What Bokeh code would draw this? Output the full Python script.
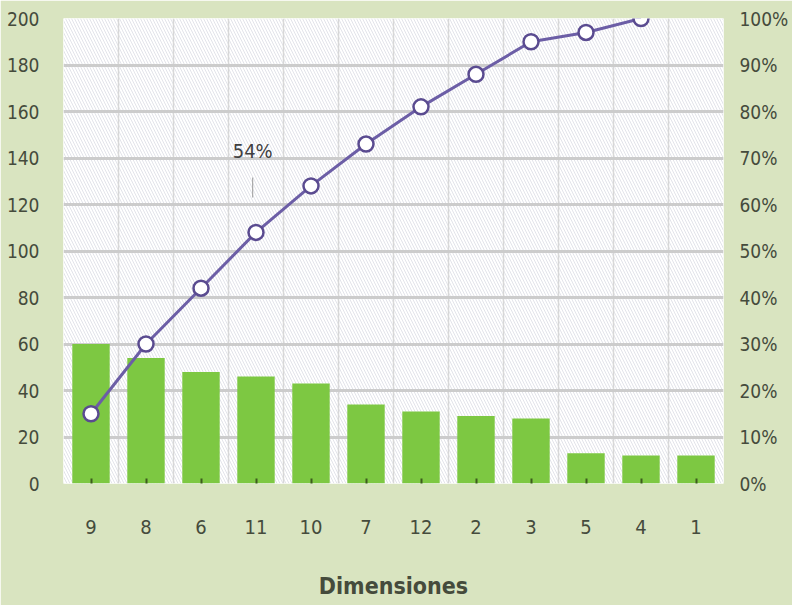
from bokeh.plotting import figure
from bokeh.models import (Range1d, LinearAxis, FixedTicker, SingleIntervalTicker,
                          PrintfTickFormatter, BoxAnnotation, Label)
from bokeh.embed import file_html
from bokeh.resources import INLINE

# Pareto data: defect counts per dimension, sorted descending
categories = ["9", "8", "6", "11", "10", "7", "12", "2", "3", "5", "4", "1"]
counts = [60, 54, 48, 46, 43, 34, 31, 29, 28, 13, 12, 12]
# cumulative share (%) plotted on the secondary axis
cumulative_pct = [15, 30, 42, 54, 64, 73, 81, 88, 95, 97, 100]
left_ticks = list(range(0, 201, 20))
right_ticks = list(range(0, 101, 10))
x_title = "Dimensiones"
callout_index = 3  # point annotated with its value

FONT = "'Liberation Sans Narrow', 'DejaVu Sans Condensed', 'Open Sans', sans-serif"
TEXT = "#454b3c"
OUTER = "#d9e4c0"
BAR = "#7dc842"
LINE = "#6c5ea6"

xs = [i + 1 for i in range(len(categories))]
line_xs = xs[:len(cumulative_pct)]

p = figure(width=792, height=605, output_backend="svg", toolbar_location=None,
           x_range=Range1d(0.5, len(categories) + 0.5), y_range=Range1d(0, 200),
           min_border_left=63, min_border_right=69, min_border_top=18, min_border_bottom=122)
p.background_fill_color = "white"
p.border_fill_color = OUTER
p.outline_line_color = None

# fine diagonal hatching behind everything in the plot area
p.add_layout(BoxAnnotation(fill_color="white", fill_alpha=1.0, line_color=None,
                           hatch_pattern="\\", hatch_color="#cfd0dc", hatch_alpha=0.6,
                           hatch_scale=6, hatch_weight=1, level="image"))

# grid: horizontal at every 20, vertical between categories
p.ygrid.ticker = SingleIntervalTicker(interval=20)
p.ygrid.grid_line_color = "#cccccc"
p.ygrid.grid_line_width = 3
p.xgrid.ticker = FixedTicker(ticks=[x + 0.5 for x in xs[:-1]])
p.xgrid.grid_line_color = "#d8d8d8"
p.xgrid.grid_line_width = 1.5

# bars
p.vbar(x=xs, top=counts, width=0.68, fill_color=BAR, line_color=None)

# cumulative line on secondary range
p.extra_y_ranges = {"pct": Range1d(0, 100)}
p.line(line_xs, cumulative_pct, y_range_name="pct", line_color=LINE, line_width=3)
p.scatter(line_xs, cumulative_pct, y_range_name="pct", size=15, marker="circle",
          fill_color="white", line_color="#5a4b90", line_width=2.5)

# callout for one of the cumulative values
cx = line_xs[callout_index]
cy = cumulative_pct[callout_index]
p.segment(x0=[cx - 0.06], x1=[cx - 0.06], y0=[cy + 7.5], y1=[cy + 11.8],
          y_range_name="pct", line_color="#9a9a9a", line_width=1)
p.add_layout(Label(x=cx - 0.06, y=cy, y_range_name="pct", y_offset=81,
                   text=f"{cy}%", text_font=FONT, text_font_size="20px",
                   text_color="#3f3f3f", text_align="center", text_baseline="middle"))

# axes
p.xaxis.ticker = FixedTicker(ticks=xs)
p.xaxis.major_label_overrides = {x: c for x, c in zip(xs, categories)}
p.xaxis.axis_label = x_title
p.xaxis.axis_label_text_font = FONT
p.xaxis.axis_label_text_font_size = "23px"
p.xaxis.axis_label_text_font_style = "bold"
p.xaxis.axis_label_text_color = TEXT
p.xaxis.axis_label_standoff = 36
p.xaxis.major_label_standoff = 36
p.xaxis.major_tick_in = 5
p.xaxis.major_tick_out = 0
p.xaxis.major_tick_line_color = "#3d5a1e"
p.xaxis.major_tick_line_width = 2

p.yaxis.ticker = FixedTicker(ticks=left_ticks)
p.yaxis.major_label_standoff = 18

right = LinearAxis(y_range_name="pct", ticker=FixedTicker(ticks=right_ticks),
                   formatter=PrintfTickFormatter(format="%d%%"))
right.major_label_standoff = 10
p.add_layout(right, "right")

for ax in [p.xaxis[0], p.yaxis[0], right]:
    ax.axis_line_color = None
    ax.minor_tick_line_color = None
    ax.major_label_text_font = FONT
    ax.major_label_text_color = TEXT
    ax.major_label_text_font_size = "19px"
for ax in [p.yaxis[0], right]:
    ax.major_tick_line_color = None
p.xaxis.major_label_text_font_size = "20px"

open("out.html", "w").write(file_html(p, INLINE))
